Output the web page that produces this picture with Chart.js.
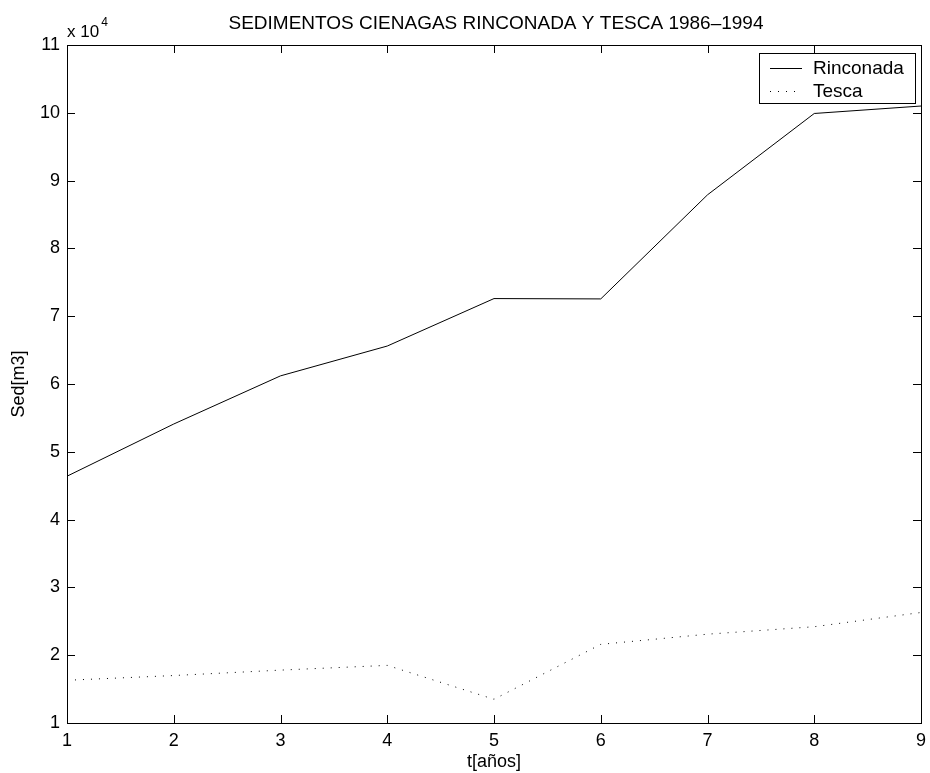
<!DOCTYPE html>
<html>
<head>
<meta charset="utf-8">
<script src="https://cdn.jsdelivr.net/npm/chart.js@4/dist/chart.umd.min.js"></script>
<style>
  html, body { margin: 0; padding: 0; background: #fff; }
  #wrap { width: 930px; height: 773px; position: relative; }
</style>
</head>
<body>
<div id="wrap"><canvas id="c" width="930" height="773"></canvas></div>
<script>
// Annual sediment volumes (m3) for the two swamps, 1986-1994 (t = 1..9)
const years = [1, 2, 3, 4, 5, 6, 7, 8, 9];
const rinconada = [46400, 54100, 61200, 65600, 72600, 72550, 87900, 99900, 101000];
const tesca = [16300, 17000, 17800, 18500, 13500, 21600, 23100, 24200, 26300];
const xTicks = [1, 2, 3, 4, 5, 6, 7, 8, 9];
const yTicks = [10000, 20000, 30000, 40000, 50000, 60000, 70000, 80000, 90000, 100000, 110000];

const titleText = 'SEDIMENTOS CIENAGAS RINCONADA Y TESCA 1986\u20131994';
const xTitle = 't[a\u00f1os]';
const yTitle = 'Sed[m3]';
const FONT = '"Liberation Sans", Arial, Helvetica, sans-serif';
const FS = 19;
const TICK_FS = 18;

// Frame, inward ticks, title, axis titles, exponent and boxed legend
const frame = {
  id: 'frame',
  afterDraw(chart) {
    const { ctx, chartArea: a, scales } = chart;
    ctx.save();
    ctx.strokeStyle = '#000';
    ctx.lineWidth = 1;
    ctx.strokeRect(Math.round(a.left) + 0.5, Math.round(a.top) + 0.5,
                   Math.round(a.right - a.left), Math.round(a.bottom - a.top));
    const tl = 8;
    ctx.beginPath();
    xTicks.forEach(v => {
      const x = Math.round(scales.x.getPixelForValue(v)) + 0.5;
      ctx.moveTo(x, a.bottom); ctx.lineTo(x, a.bottom - tl);
      ctx.moveTo(x, a.top); ctx.lineTo(x, a.top + tl);
    });
    yTicks.forEach(v => {
      const y = Math.round(scales.y.getPixelForValue(v)) + 0.5;
      ctx.moveTo(a.left, y); ctx.lineTo(a.left + tl, y);
      ctx.moveTo(a.right, y); ctx.lineTo(a.right - tl, y);
    });
    ctx.stroke();

    ctx.fillStyle = '#000';
    ctx.font = FS + 'px ' + FONT;
    ctx.textAlign = 'center';
    ctx.textBaseline = 'middle';
    ctx.fillText(titleText, 496, 24);
    ctx.font = TICK_FS + 'px ' + FONT;
    ctx.fillText(xTitle, (a.left + a.right) / 2, 762);
    ctx.save();
    ctx.translate(19, (a.top + a.bottom) / 2);
    ctx.rotate(-Math.PI / 2);
    ctx.fillText(yTitle, 0, 0);
    ctx.restore();

    // exponent label
    ctx.textAlign = 'left';
    ctx.font = '17px ' + FONT;
    ctx.fillText('x 10', 67, 32);
    const w = ctx.measureText('x 10').width;
    ctx.font = '12px ' + FONT;
    ctx.fillText('4', 67 + w + 2, 23);

    // legend box
    const lx = 759, ly = 53, lw = 156, lh = 50;
    ctx.fillStyle = '#fff';
    ctx.fillRect(lx, ly, lw, lh);
    ctx.strokeRect(lx + 0.5, ly + 0.5, lw, lh);
    ctx.fillStyle = '#000';
    ctx.font = FS + 'px ' + FONT;
    chart.data.datasets.forEach((ds, i) => {
      const y = ly + 15 + i * 23 + 0.5;
      ctx.beginPath();
      ctx.setLineDash(ds.borderDash || []);
      ctx.moveTo(lx + 11, y); ctx.lineTo(lx + 43, y);
      ctx.stroke();
      ctx.setLineDash([]);
      ctx.fillText(ds.label, lx + 54, y);
    });
    ctx.restore();
  }
};

new Chart(document.getElementById('c'), {
  type: 'line',
  data: {
    datasets: [
      { label: 'Rinconada', data: years.map((t, i) => ({ x: t, y: rinconada[i] })),
        borderColor: '#000', borderWidth: 1, pointRadius: 0, tension: 0 },
      { label: 'Tesca', data: years.map((t, i) => ({ x: t, y: tesca[i] })),
        borderColor: '#000', borderWidth: 1, borderDash: [1, 7], pointRadius: 0, tension: 0 }
    ]
  },
  options: {
    responsive: false,
    animation: false,
    layout: { padding: { top: 45, right: 9, left: 0, bottom: 0 } },
    plugins: { legend: { display: false }, title: { display: false }, tooltip: { enabled: false } },
    scales: {
      x: {
        type: 'linear', min: 1, max: 9,
        afterFit(s) { s.height = 50; s.paddingLeft = 0; s.paddingRight = 0; },
        afterBuildTicks(s) { s.ticks = xTicks.map(v => ({ value: v })); },
        grid: { display: false, drawTicks: false },
        border: { display: false },
        ticks: { color: '#000', font: { family: FONT, size: TICK_FS }, padding: 7, maxRotation: 0 }
      },
      y: {
        type: 'linear', min: 10000, max: 110000,
        afterFit(s) { s.width = 67; s.paddingTop = 0; s.paddingBottom = 0; },
        afterBuildTicks(s) { s.ticks = yTicks.map(v => ({ value: v })); },
        grid: { display: false, drawTicks: false },
        border: { display: false },
        ticks: { color: '#000', font: { family: FONT, size: TICK_FS }, padding: 7,
                 callback: v => String(v / 10000) }
      }
    }
  },
  plugins: [frame]
});
</script>
</body>
</html>
